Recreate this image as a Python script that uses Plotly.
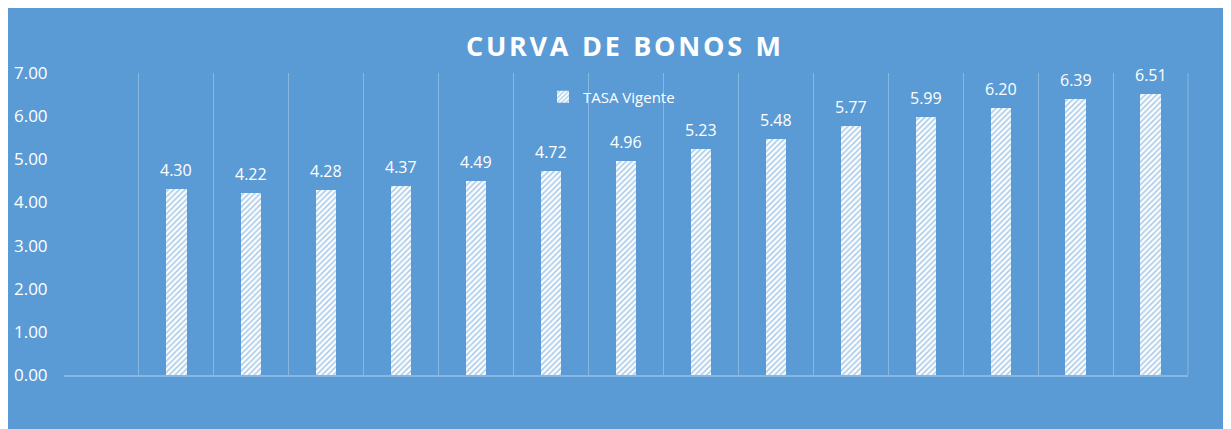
import plotly.graph_objects as go

categories = ["C0", "C1", "C2", "C3", "C4", "C5", "C6", "C7", "C8", "C9", "C10", "C11", "C12", "C13", "C14"]
tasa_vigente = [None, 4.30, 4.22, 4.28, 4.37, 4.49, 4.72, 4.96, 5.23, 5.48, 5.77, 5.99, 6.20, 6.39, 6.51]
y_ticks = [0, 1, 2, 3, 4, 5, 6, 7]
y_labels = ["0.00", "1.00", "2.00", "3.00", "4.00", "5.00", "6.00", "7.00"]

BLUE = "#5B9BD5"
GRID = "rgba(255,255,255,0.28)"

fig = go.Figure()
fig.add_trace(go.Bar(
    x=categories, y=tasa_vigente, name="TASA Vigente",
    width=0.27,
    marker=dict(color="white", line=dict(width=0),
                pattern=dict(shape="/", fgcolor=BLUE, bgcolor="white", size=4, solidity=0.45)),
))

for c, v in zip(categories, tasa_vigente):
    if v is None:
        continue
    fig.add_annotation(x=c, y=v, text=f"{v:.2f}", showarrow=False, yshift=19, yanchor="middle",
                       font=dict(color="white", size=16, family="Open Sans"))

W, H = 1231, 429
L, R, T, B = 56, 51, 65, 62
pw, ph = W - L - R, H - T - B

fig.update_layout(
    width=W, height=H,
    margin=dict(l=L, r=R, t=T, b=B, autoexpand=False),
    paper_bgcolor=BLUE, plot_bgcolor=BLUE,
    font=dict(family="Open Sans", color="white"),
    title=dict(text="C U R V A  D E  B O N O S  M".replace(" ", "\u200a").replace("\u200a\u200a", "\u2002"),
               x=0.5, xanchor="center", y=1 - 39 / H, yanchor="middle",
               font=dict(size=27, color="white", family="Open Sans", weight="bold")),
    showlegend=True,
    legend=dict(x=(535 - L) / pw, y=(T - 89) / ph + 1, xanchor="left", yanchor="middle",
                bgcolor="rgba(0,0,0,0)", font=dict(size=15, color="white"), orientation="h"),
    bargap=0,
    xaxis=dict(showticklabels=False, tickson="boundaries", showgrid=True, gridcolor=GRID, gridwidth=1,
               ticks="", showline=True, linecolor=GRID, linewidth=2, mirror=False, zeroline=False,
               automargin=False),
    yaxis=dict(range=[0, 7], tickvals=y_ticks, ticktext=y_labels, showgrid=False, zeroline=False,
               ticks="outside", ticklen=12, tickcolor="rgba(0,0,0,0)", automargin=False,
               tickfont=dict(size=17, color="white")),
    shapes=[
        dict(type="line", xref="paper", yref="paper", x0=1, x1=1, y0=0, y1=1, line=dict(color=GRID, width=1)),
    ],
)

fig.write_html("out.html")
